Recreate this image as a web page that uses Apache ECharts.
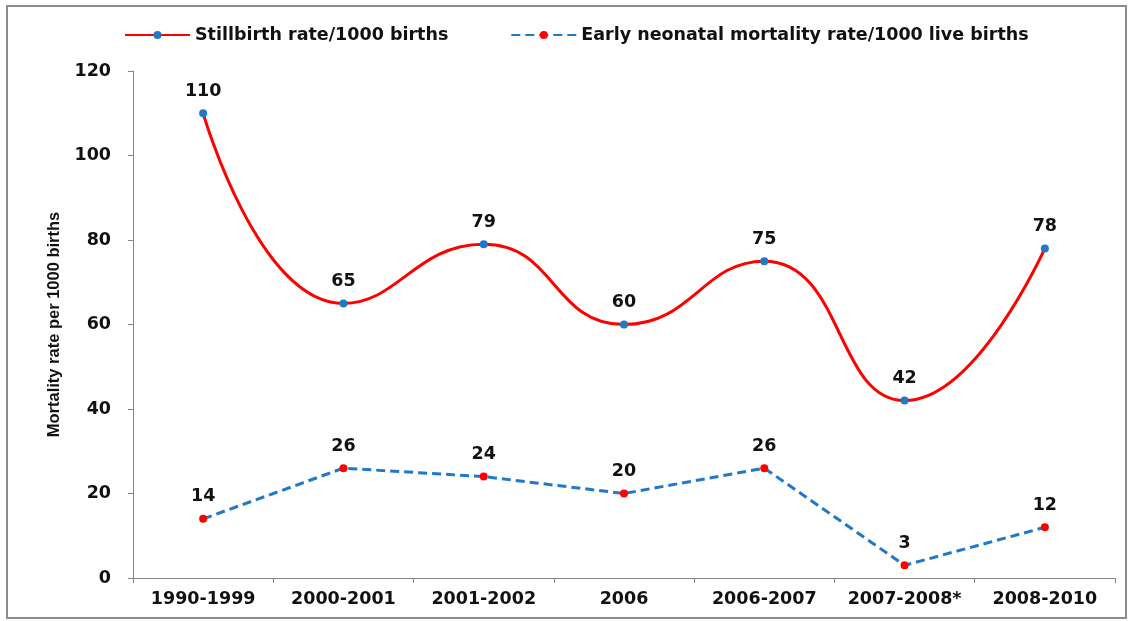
<!DOCTYPE html>
<html>
<head>
<meta charset="utf-8">
<script src="https://cdn.jsdelivr.net/npm/echarts@6/dist/echarts.min.js"></script>
<style>html,body{margin:0;padding:0;background:#fff}#c{width:1130px;height:621px}</style>
</head>
<body>
<div id="c"></div>
<script>
var categories = ['1990-1999', '2000-2001', '2001-2002', '2006', '2006-2007', '2007-2008*', '2008-2010'];
var stillbirth = [110, 65, 79, 60, 75, 42, 78];
var neonatal = [14, 26, 24, 20, 26, 3, 12];
var seriesNames = ['Stillbirth rate/1000 births', 'Early neonatal mortality rate/1000 live births'];
var yAxisName = 'Mortality rate per 1000 births';

var FONT = 'DejaVu Sans';
var chart = echarts.init(document.getElementById('c'), null, {renderer: 'canvas'});
var labelStyle = {show: true, position: 'top', distance: 9, color: '#111', fontFamily: FONT, fontWeight: 'bold', fontSize: 17.5};
chart.setOption({
  animation: false,
  backgroundColor: '#fff',
  graphic: [{
    type: 'rect', shape: {x: 7, y: 6, width: 1119, height: 612},
    style: {fill: 'none', stroke: '#8c8c8c', lineWidth: 2}, silent: true, z: -1
  }],
  legend: {
    left: 119, top: 21,
    itemWidth: 65, itemHeight: 10, itemGap: 62,
    textStyle: {fontFamily: FONT, fontWeight: 'bold', fontSize: 17.5, color: '#111'},
    data: seriesNames
  },
  grid: {left: 133, right: 15, top: 71, bottom: 43, containLabel: false},
  xAxis: {
    type: 'category', data: categories, boundaryGap: true,
    axisLine: {lineStyle: {color: '#868686', width: 1}},
    axisTick: {show: true, alignWithLabel: false, length: 5, lineStyle: {color: '#868686'}},
    axisLabel: {margin: 12, color: '#111', fontFamily: FONT, fontWeight: 'bold', fontSize: 17.5, interval: 0}
  },
  yAxis: {
    type: 'value', min: 0, max: 120, interval: 20,
    name: yAxisName, nameLocation: 'middle', nameGap: 70, nameRotate: 90,
    nameTextStyle: {fontFamily: 'Liberation Sans', fontWeight: 'bold', fontSize: 16.5, color: '#111'},
    axisLine: {show: true, lineStyle: {color: '#868686', width: 1}},
    axisTick: {show: true, length: 5, lineStyle: {color: '#868686'}},
    splitLine: {show: false},
    axisLabel: {margin: 22, color: '#111', fontFamily: FONT, fontWeight: 'bold', fontSize: 17.5}
  },
  series: [{
    name: seriesNames[0], type: 'line', data: stillbirth, smooth: 0.5,
    symbol: 'circle', symbolSize: 8,
    lineStyle: {color: '#ff0000', width: 3},
    itemStyle: {color: '#1f78c8', borderWidth: 0},
    label: labelStyle
  }, {
    name: seriesNames[1], type: 'line', data: neonatal, smooth: false,
    symbol: 'circle', symbolSize: 8,
    lineStyle: {color: '#1f78c8', width: 3, type: [9, 5]},
    itemStyle: {color: '#ff0000', borderWidth: 0},
    label: labelStyle
  }]
});
</script>
</body>
</html>
